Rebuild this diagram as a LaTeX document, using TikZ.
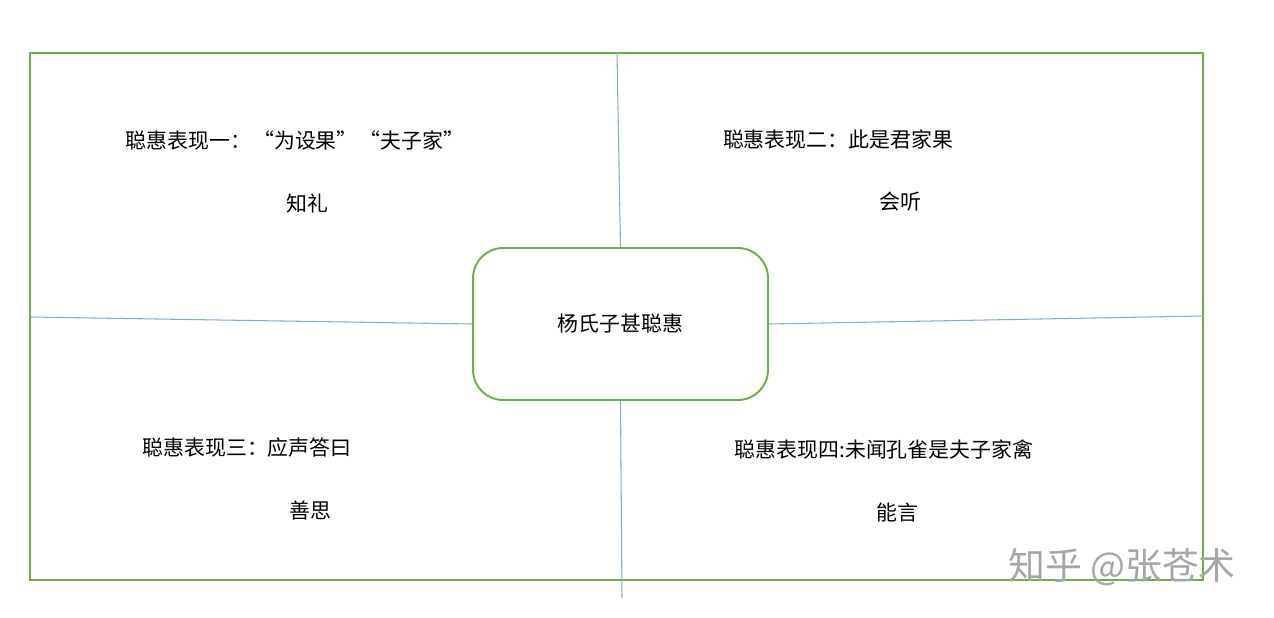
\documentclass[tikz,border=0pt]{standalone}
\usepackage{fontspec}
\setmainfont{Noto Sans CJK SC}
\usetikzlibrary{positioning}
\definecolor{frame}{RGB}{112,173,71}
\definecolor{rule}{RGB}{130,172,212}

\begin{document}
\begin{tikzpicture}[x=0.02cm, y=-0.02cm,
    label/.style={inner sep=0pt, font=\fontsize{11.9}{13}\selectfont},
    core/.style={draw=frame, line width=1.1pt, rounded corners=0.6cm,
        minimum width=5.9cm, minimum height=3.04cm, fill=white,
        font=\fontsize{11.9}{13}\selectfont},
    split/.style={draw=rule, line width=0.6pt}]

    \useasboundingbox (0,0) rectangle (1274,618);
    \fill[white] (0,0) rectangle (1274,618);

    % outer frame
    \draw[frame, line width=1.1pt] (30,53) rectangle (1203,580);

    % centre box
    \node[core] (hub) at (620.5,324) {杨氏子甚聪惠};

    % free ends of the splitting lines
    \coordinate (topend) at (617,53);
    \coordinate (botend) at (622,598);
    \coordinate (leftend) at (30,317);
    \coordinate (rightend) at (1203,316);

    \draw[split] (topend) -- (hub.north);
    \draw[split] (hub.south) -- (botend);
    \draw[split] (leftend) -- (hub.west);
    \draw[split] (hub.east) -- (rightend);

    % four quarters
    \node[label] (one) at (295,141) {聪惠表现一：\hspace{0.1em}“为设果”\hspace{0.1em}“夫子家”};
    \node[label] (oneb) at (307,204) {知礼};

    \node[label] (two) at (838,140) {聪惠表现二：此是君家果};
    \node[label] (twob) at (900,202) {会听};

    \node[label] (three) at (247,448) {聪惠表现三：应声答曰};
    \node[label] (threeb) at (310,511) {善思};

    \node[label] (four) at (884,450) {聪惠表现四:未闻孔雀是夫子家禽};
    \node[label] (fourb) at (897,513) {能言};

    % watermark
    \node[inner sep=0pt, text=black!35, font=\fontsize{21}{23}\selectfont]
        (mark) at (1122,567) {知乎 @张苍术};

\end{tikzpicture}
\end{document}
